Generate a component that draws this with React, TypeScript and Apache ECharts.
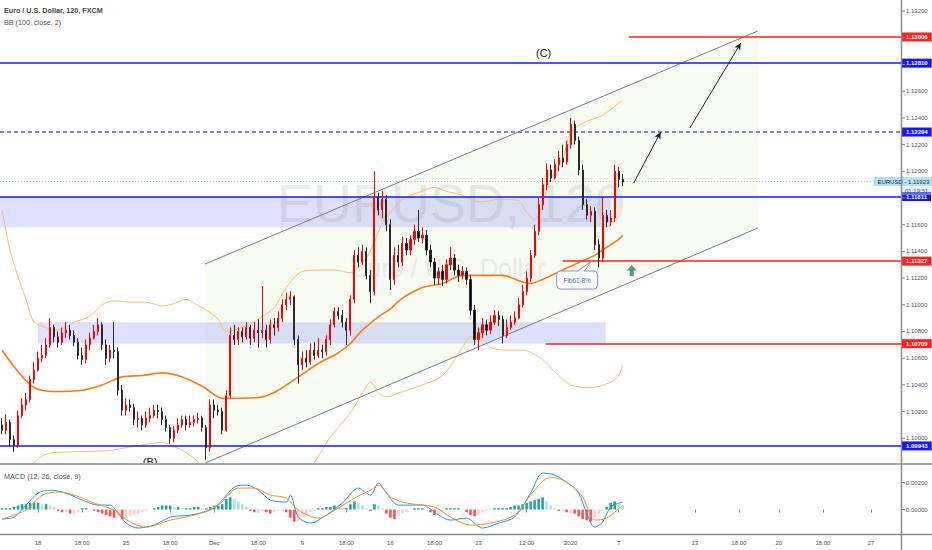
import React, { useEffect, useRef } from "react";
import * as echarts from "echarts";

// ---------- axes ----------
const SLOT_COUNT = 225;
const X_MIN = -0.5;
const X_MAX = SLOT_COUNT - 0.5;
const PRICE_MIN = 1.09815;
const PRICE_MAX = 1.13283;
const MACD_MIN = -0.00181;
const MACD_MAX = 0.0033;

const PRICE_TICKS = [1.1, 1.102, 1.104, 1.106, 1.108, 1.11, 1.112, 1.114, 1.116, 1.118, 1.12, 1.122, 1.124, 1.126, 1.128, 1.13, 1.132];
const PRICE_LABELS = [1.1, 1.102, 1.104, 1.106, 1.108, 1.11, 1.112, 1.114, 1.116, 1.12, 1.122, 1.124, 1.126, 1.132];
const MACD_TICKS = [0, 0.002];

const X_LABELS: [number, string][] = [
  [9, "18"], [20, "18:00"], [31, "25"], [42, "18:00"], [53, "Dec"], [64, "18:00"], [75, "9"],
  [86, "18:00"], [97, "16"], [108, "18:00"], [119, "23"], [131, "12:00"], [142, "2020"], [154, "7"],
  [173, "13"], [184, "18:00"], [194, "20"], [205, "18:00"], [217, "27"],
];

// ---------- price candles (2h bars, grouped) ----------
const FIRST_OPEN = 1.101;
const CLOSE = [
  1.1006, 1.1012, 1.0999, 1.0995, 1.1017, 1.1025, 1.1029, 1.1044, 1.1051, 1.106,
  1.1062, 1.107, 1.1083, 1.1076, 1.1072, 1.1079, 1.1081, 1.1077, 1.1072, 1.1062,
  1.1059, 1.107, 1.1075, 1.108, 1.1085, 1.107, 1.106, 1.1066, 1.1065, 1.1036,
  1.1021, 1.1025, 1.1023, 1.1014, 1.1015, 1.101, 1.1015, 1.1017, 1.1021, 1.102,
  1.1014, 1.1008, 1.1, 1.1006, 1.101, 1.1014, 1.101, 1.1012, 1.1014, 1.1015,
  1.1008, 1.0993, 1.1025, 1.1021, 1.102, 1.1006, 1.1032, 1.1077, 1.1074, 1.108,
  1.1076, 1.1083, 1.1075, 1.1081, 1.1079, 1.1081, 1.1074, 1.1085, 1.1083, 1.109,
  1.11, 1.1104, 1.1106, 1.1074, 1.1055, 1.106, 1.1057, 1.1066, 1.1062, 1.1066,
  1.1065, 1.1074, 1.1085, 1.1095, 1.1092, 1.1087, 1.1081, 1.1104, 1.1137, 1.1132,
  1.114, 1.1122, 1.111, 1.1181, 1.1171, 1.1179, 1.116, 1.1119, 1.1137, 1.1132,
  1.1146, 1.1141, 1.1149, 1.1155, 1.115, 1.1152, 1.1141, 1.1132, 1.112, 1.1125,
  1.1119, 1.113, 1.1135, 1.1126, 1.1122, 1.1125, 1.1119, 1.1096, 1.1074, 1.1079,
  1.1085, 1.1081, 1.1087, 1.1092, 1.1089, 1.1077, 1.1083, 1.1087, 1.109, 1.11,
  1.111, 1.112, 1.1137, 1.1155, 1.1175, 1.119, 1.1201, 1.1195, 1.1205, 1.121,
  1.1207, 1.122, 1.1235, 1.1223, 1.1201, 1.1175, 1.1167, 1.117, 1.1145, 1.1135,
  1.1167, 1.1162, 1.1165, 1.12, 1.1194, 1.1192,
];
const HIGH = [
  1.1015, 1.1018, 1.1014, 1.1002, 1.1021, 1.103, 1.1034, 1.1047, 1.1057, 1.1065,
  1.107, 1.1075, 1.109, 1.1085, 1.108, 1.1083, 1.1087, 1.1085, 1.1081, 1.1075,
  1.1068, 1.1074, 1.1079, 1.1085, 1.109, 1.1087, 1.1074, 1.107, 1.1087, 1.1068,
  1.104, 1.103, 1.1029, 1.1026, 1.102, 1.1017, 1.102, 1.1023, 1.1025, 1.1025,
  1.1023, 1.1017, 1.101, 1.1009, 1.1015, 1.1017, 1.1017, 1.1017, 1.1017, 1.1019,
  1.1017, 1.101, 1.1029, 1.1029, 1.1025, 1.1023, 1.1036, 1.1083, 1.1085, 1.1083,
  1.1083, 1.1087, 1.1085, 1.1087, 1.1089, 1.1114, 1.1085, 1.1089, 1.109, 1.1095,
  1.1104, 1.1109, 1.111, 1.1107, 1.1077, 1.1065, 1.1066, 1.1071, 1.1072, 1.1075,
  1.107, 1.1077, 1.1089, 1.1098, 1.1098, 1.1096, 1.109, 1.1107, 1.1141, 1.1143,
  1.1145, 1.1143, 1.1126, 1.12, 1.1184, 1.1185, 1.1182, 1.1164, 1.1143, 1.1145,
  1.1151, 1.115, 1.1152, 1.116, 1.1171, 1.1158, 1.1156, 1.1145, 1.1135, 1.1128,
  1.113, 1.1134, 1.1143, 1.1138, 1.113, 1.1129, 1.1128, 1.1122, 1.11, 1.1083,
  1.109, 1.1089, 1.1092, 1.1096, 1.1095, 1.1092, 1.1089, 1.1092, 1.1095, 1.1105,
  1.1115, 1.1125, 1.1141, 1.116, 1.118, 1.1195, 1.1206, 1.1205, 1.1209, 1.1215,
  1.122, 1.1223, 1.124, 1.1238, 1.1226, 1.1205, 1.1179, 1.1174, 1.1173, 1.1149,
  1.1181, 1.1171, 1.1171, 1.1205, 1.1203, 1.1198,
];
const LOW = [
  1.1003, 1.1003, 1.0994, 1.099, 1.0993, 1.1015, 1.1021, 1.1027, 1.1041, 1.105,
  1.1057, 1.106, 1.1068, 1.1072, 1.1068, 1.107, 1.1075, 1.1074, 1.1069, 1.1059,
  1.1055, 1.1056, 1.1066, 1.1074, 1.1077, 1.1066, 1.1055, 1.1057, 1.106, 1.1032,
  1.1017, 1.1017, 1.102, 1.101, 1.1008, 1.1006, 1.1008, 1.1012, 1.1015, 1.1015,
  1.101, 1.1005, 1.0996, 1.0997, 1.1004, 1.1008, 1.1006, 1.1008, 1.1009, 1.1011,
  1.1005, 1.0984, 1.099, 1.1015, 1.1017, 1.1003, 1.1005, 1.103, 1.107, 1.107,
  1.1072, 1.1074, 1.107, 1.1072, 1.1068, 1.1075, 1.1068, 1.1071, 1.1077, 1.108,
  1.1087, 1.1096, 1.11, 1.107, 1.1041, 1.1051, 1.1053, 1.1055, 1.1059, 1.106,
  1.106, 1.1062, 1.107, 1.1083, 1.1089, 1.1083, 1.107, 1.1077, 1.1101, 1.1128,
  1.113, 1.1119, 1.1101, 1.1107, 1.1167, 1.1165, 1.1155, 1.1111, 1.1115, 1.1128,
  1.1129, 1.1137, 1.1137, 1.1145, 1.1147, 1.1146, 1.1137, 1.1128, 1.1115, 1.1115,
  1.1114, 1.1116, 1.1126, 1.1122, 1.1117, 1.1119, 1.1115, 1.1092, 1.107, 1.1066,
  1.1075, 1.1077, 1.1078, 1.1085, 1.1084, 1.1071, 1.1075, 1.1081, 1.1085, 1.1089,
  1.1098, 1.1107, 1.1117, 1.1135, 1.1152, 1.1171, 1.1186, 1.1192, 1.1194, 1.12,
  1.1203, 1.1205, 1.1217, 1.122, 1.1197, 1.1171, 1.1164, 1.1162, 1.1141, 1.1128,
  1.1132, 1.1158, 1.1159, 1.1162, 1.1188, 1.1189,
];

// ---------- Bollinger Bands (100, close, 2) [slot, price] ----------
const BB_UPPER: [number, number][] = [
  [0, 1.1171], [2, 1.1141], [4, 1.1121], [6, 1.1104], [8, 1.1087], [11, 1.1083], [13, 1.1081], [16, 1.1083],
  [18, 1.1087], [21, 1.109], [23, 1.1094], [25, 1.11], [28, 1.1103], [32, 1.1102], [36, 1.1102], [40, 1.1099],
  [43, 1.1101], [46, 1.1104], [48, 1.1101], [51, 1.1096], [54, 1.1089], [56, 1.108], [58, 1.1081], [62, 1.1086],
  [65, 1.1091], [68, 1.1098], [71, 1.1113], [75, 1.1125], [79, 1.1126], [83, 1.1126], [87, 1.1124], [89, 1.1128],
  [91, 1.1135], [93, 1.1147], [95, 1.1161], [100, 1.1179], [104, 1.1184], [108, 1.1188], [111, 1.1185],
  [115, 1.1182], [117, 1.1179], [120, 1.1177], [124, 1.1179], [129, 1.1178], [131, 1.1169], [133, 1.1164],
  [135, 1.1176], [137, 1.1194], [140, 1.1209], [142, 1.1229], [145, 1.1236], [150, 1.1242], [154, 1.1251], [155, 1.1253],
];
const BB_MIDDLE: [number, number][] = [
  [0, 1.1066], [4, 1.105], [8, 1.1038], [13, 1.1035], [20, 1.1036], [25, 1.104], [30, 1.1046], [35, 1.1047],
  [40, 1.1049], [45, 1.1046], [50, 1.1039], [55, 1.103], [60, 1.103], [65, 1.1031], [69, 1.1036], [74, 1.1046],
  [79, 1.1056], [84, 1.1064], [87, 1.1071], [90, 1.1081], [94, 1.1091], [97, 1.1097], [100, 1.1105], [105, 1.1113],
  [110, 1.1116], [115, 1.1122], [120, 1.1122], [125, 1.1122], [130, 1.1117], [132, 1.1116], [135, 1.1119],
  [140, 1.1126], [145, 1.1133], [148, 1.1137], [151, 1.1143], [154, 1.1149], [155, 1.1152],
];
const BB_LOWER: [number, number][] = [
  [0, 1.094], [5, 1.0969], [8, 1.0982], [12, 1.0989], [20, 1.099], [27, 1.0991], [33, 1.0994], [40, 1.0997],
  [43, 1.0994], [46, 1.0989], [49, 1.0982], [52, 1.0965], [62, 1.0946], [72, 1.0958], [78, 1.0982], [82, 1.1001],
  [87, 1.1019], [90, 1.1034], [92, 1.1042], [94, 1.1034], [96, 1.1031], [100, 1.1035], [105, 1.104], [110, 1.1047],
  [115, 1.1068], [117, 1.1076], [120, 1.1074], [122, 1.1068], [126, 1.1066], [130, 1.1066], [135, 1.1059],
  [138, 1.105], [142, 1.104], [147, 1.1038], [152, 1.1042], [154, 1.1047], [155, 1.1055],
];

// ---------- MACD (12, 26, close, 9) ----------
const MACD_LINE: [number, number][] = [
  [0, -0.0007], [3, -0.00056], [6, 0.00033], [9, 0.00122], [12, 0.00144], [16, 0.00122], [20, 0.0007], [24, 0.00033],
  [27, 0.00033], [29, -0.00026], [31, -0.001], [34, -0.00137], [38, -0.00115], [42, -0.00056], [47, -0.00041],
  [52, -0.00004], [55, 0.0007], [58, 0.00167], [61, 0.00181], [64, 0.00144], [67, 0.0007], [71, 0.00056],
  [72, 0.00107], [74, -0.00056], [77, -0.001], [81, -0.00041], [85, 0.00048], [89, 0.00159], [92, 0.00107],
  [94, 0.00196], [96, 0.00122], [99, 0.00033], [105, 0.00033], [109, -0.00041], [112, -0.00078], [116, -0.00063],
  [120, -0.00137], [124, -0.001], [128, -0.00056], [132, 0.00122], [135, 0.0027], [138, 0.00255], [142, 0.00181],
  [144, 0.00122], [146, -0.00026], [148, -0.0013], [150, -0.00093], [152, 0.00019], [155, 0.00056],
];
const SIGNAL_LINE: [number, number][] = [
  [0, -0.0007], [6, -0.00004], [10, 0.00107], [14, 0.0013], [18, 0.00107], [23, 0.00048], [28, -0.00004],
  [32, -0.00093], [36, -0.0013], [42, -0.00078], [48, -0.00041], [54, 0.00033], [59, 0.00159], [63, 0.00159],
  [67, 0.00107], [71, 0.00085], [74, -0.00004], [79, -0.00063], [84, 0.00011], [88, 0.00085], [92, 0.00144],
  [94, 0.00181], [97, 0.00093], [101, 0.00048], [108, 0.00019], [112, -0.00056], [117, -0.00115], [122, -0.001],
  [128, -0.00041], [133, 0.00144], [137, 0.0024], [141, 0.00204], [145, 0.00093], [148, -0.00078], [151, -0.00063],
  [155, 0.00033],
];
const MACD_HIST = [
  0.0001, 0.0001, 0.0001,
  0.0002, 0.0003, 0.0004, 0.0004, 0.0005, 0.0005,
  0.0005, 0.0004, 0.0004, 0.0003, 0.0002,
  -0.0001, -0.0002, -0.0002, -0.0003, -0.0003, -0.0002,
  0.0001, 0.0001, 0, -0.0001,
  -0.0002, -0.0003, -0.0004, -0.0005, -0.0006, -0.0006, -0.0007, -0.0006, -0.0005,
  -0.0004, -0.0003, -0.0002, -0.0001, 0,
  0.0001, 0.0002, 0.0003, 0.0003, 0.0003, 0.0002, 0.0002, 0.0001, 0.0001, 0.0001, 0.0002, 0.0002, 0.0001,
  0.0001, 0.0002, 0.0003, 0.0003, 0.0004,
  0.0008, 0.0009, 0.0008,
  0.0006, 0.0004, 0.0002,
  -0.0001, -0.0002, -0.0002, -0.0001, -0.0002, -0.0003, -0.0002, -0.0001, -0.0001, -0.0002,
  -0.0006, -0.0009, -0.0008, -0.0006,
  -0.0004, -0.0002, -0.0001,
  0.0001, 0.0001, 0.0002, 0.0002, 0.0003,
  0.0002, 0.0001, 0.0001,
  0.0004, 0.0006, 0.0005,
  0.0003, 0.0001, -0.0001,
  0.0004, 0.0003, 0.0001,
  -0.0003, -0.0006, -0.0007, -0.0005, -0.0003, -0.0002,
  0, 0.0001, 0.0001, 0.0001, 0,
  -0.0002, -0.0004, -0.0004, -0.0002,
  0.0001, 0.0001, 0.0001, 0.0001, 0,
  -0.0002, -0.0004, -0.0005, -0.0004, -0.0002,
  -0.0001, 0, 0.0001, 0.0001, 0.0001, 0.0001,
  0.0002, 0.0003, 0.0003, 0.0004, 0.0005,
  0.0006, 0.0007, 0.0008, 0.0009,
  0.0006, 0.0003, 0.0001,
  -0.0001, -0.0001, -0.0002, -0.0002,
  -0.0003, -0.0005, -0.0007, -0.0008, -0.0009,
  -0.0006, -0.0003, -0.0001,
  0.0002, 0.0005, 0.0006, 0.0004, 0.0003,
];

// ---------- drawings ----------
const LEVEL_PRICES = [1.13006, 1.1281, 1.12294, 1.11811, 1.11327, 1.10709, 1.09943];
const LEVEL_FROM = [156.5, -0.5, -0.5, -0.5, 140, 135.75, -0.5];
const LEVEL_KIND = ["red", "blue", "dash", "blue", "red", "red", "blue"];
const CURRENT_PRICE = 1.11923;
const COUNTDOWN = "01:19:51";
const ZONES: [number, number, number, number][] = [
  [-0.5, 152, 1.1181, 1.1158],
  [9, 150.75, 1.1087, 1.1071],
];
const CHANNEL_TOP: [number, number][] = [[50.75, 1.11306], [188.75, 1.13051]];
const CHANNEL_BOTTOM: [number, number][] = [[50.75, 1.09815], [188.75, 1.11575]];
const ARROWS: [number, number][][] = [
  [[157.75, 1.11912], [164.5, 1.12294]],
  [[171.75, 1.12324], [184.5, 1.12961]],
];
const WAVE_LABELS: { text: string; at: [number, number] }[] = [
  { text: "(C)", at: [135.25, 1.12886] },
  { text: "(B)", at: [37, 1.09826] },
];
const FIB_TEXT = "Fib61.8%";
const FIB_BOX: [number, number][] = [[138.5, 1.11253], [148.75, 1.11118]];
const FIB_TAIL: [number, number][] = [[143.75, 1.11253], [147, 1.11321], [145.5, 1.11253]];
const BUY_MARK: [number, number] = [157.25, 1.11257];

const FONT = '"Liberation Sans", Arial, sans-serif';
const COLORS: Record<string, string> = { red: "#ff1f1f", blue: "#1717ff", dash: "#5a5aff" };
const AXIS_GRAY = "#8c8c8c";

function tickSeries(xAxisIndex: number, yAxisIndex: number, values: number[]) {
  return {
    type: "custom", xAxisIndex, yAxisIndex, z: 20, silent: true, clip: false,
    data: values.map((v) => [X_MAX, v]),
    renderItem: (_p: any, api: any) => {
      const pt = api.coord([api.value(0), api.value(1)]);
      return { type: "line", shape: { x1: pt[0] + 1, y1: pt[1], x2: pt[0] + 4, y2: pt[1] }, style: { stroke: AXIS_GRAY, lineWidth: 1 } };
    },
  };
}

function buildOption(): any {
  const labelMap = new Map<number, string>(X_LABELS);
  const categories = Array.from({ length: SLOT_COUNT }, (_, i) => String(i));
  const candles = CLOSE.map((c, i) => [i === 0 ? FIRST_OPEN : CLOSE[i - 1], c, LOW[i], HIGH[i]]);
  const hist = MACD_HIST.map((v, i) => {
    const prev = i > 0 ? MACD_HIST[i - 1] : 0;
    let color: string;
    if (v >= 0) color = v >= prev ? "#26a69a" : "#b2dfdb";
    else color = v < prev ? "#ff5252" : "#ffcdd2";
    return { value: v, itemStyle: { color } };
  });

  const levelLines = LEVEL_PRICES.map((p, k) => {
    const kind = LEVEL_KIND[k];
    const lineColor = COLORS[kind];
    const labelBg = kind === "red" ? "#ff1f1f" : "#1717ff";
    return [
      {
        coord: [LEVEL_FROM[k], p],
        lineStyle: { color: lineColor, width: 1.6, type: kind === "dash" ? [4, 3] : "solid" },
        label: {
          show: true, position: "end", formatter: p.toFixed(5), backgroundColor: labelBg, color: "#fff",
          fontSize: 6, fontWeight: "bold", fontFamily: FONT, padding: [1.5, 4, 1.5, 4], distance: 1,
        },
      },
      { coord: [X_MAX, p] },
    ];
  });

  const channelLines = [CHANNEL_TOP, CHANNEL_BOTTOM].map((seg) => [
    { coord: seg[0], lineStyle: { color: "#7b7e88", width: 1, type: "solid" }, label: { show: false } },
    { coord: seg[1] },
  ]);

  const priceLine = [
    { coord: [X_MIN, CURRENT_PRICE], lineStyle: { color: "#9fd3ea", width: 1, type: [1, 2] }, label: { show: false } },
    { coord: [X_MAX, CURRENT_PRICE] },
  ];

  return {
    animation: false,
    backgroundColor: "#ffffff",
    textStyle: { fontFamily: FONT },
    grid: [
      { left: 0, top: 0, width: 901, height: 463, containLabel: false, outerBoundsMode: "none" },
      { left: 0, top: 465, width: 901, height: 69, containLabel: false, outerBoundsMode: "none" },
    ],
    xAxis: [
      { type: "category", gridIndex: 0, data: categories, show: false },
      { type: "value", gridIndex: 0, min: X_MIN, max: X_MAX, show: false },
      {
        type: "category", gridIndex: 1, data: categories,
        axisLine: { show: false },
        axisTick: { show: true, length: 3, alignWithLabel: true, interval: (i: number) => labelMap.has(i), lineStyle: { color: AXIS_GRAY } },
        axisLabel: {
          show: true, interval: (i: number) => labelMap.has(i), formatter: (v: string) => labelMap.get(Number(v)) ?? "",
          fontSize: 6, color: "#50535e", margin: 6, fontFamily: FONT,
        },
        splitLine: { show: false },
      },
      { type: "value", gridIndex: 1, min: X_MIN, max: X_MAX, show: false },
    ],
    yAxis: [
      {
        type: "value", gridIndex: 0, position: "right", min: PRICE_MIN, max: PRICE_MAX,
        splitLine: { show: false }, axisLine: { show: false }, axisTick: { show: false },
        axisLabel: { customValues: PRICE_LABELS, formatter: (v: number) => v.toFixed(5), fontSize: 6, color: "#50535e", margin: 5, fontFamily: FONT },
      },
      {
        type: "value", gridIndex: 1, position: "right", min: MACD_MIN, max: MACD_MAX,
        splitLine: { show: false }, axisLine: { show: false }, axisTick: { show: false },
        axisLabel: { customValues: MACD_TICKS, formatter: (v: number) => v.toFixed(5), fontSize: 6, color: "#50535e", margin: 5, fontFamily: FONT },
      },
    ],
    graphic: [
      { type: "text", z: 0, style: { text: "EURUSD, 120", x: 451, y: 203, fill: "rgba(120,125,140,0.15)", font: `54px ${FONT}`, align: "center", verticalAlign: "middle", textAlign: "center", textVerticalAlign: "middle" } },
      { type: "text", z: 0, style: { text: "Euro / U.S. Dollar", x: 448, y: 268, fill: "rgba(120,125,140,0.15)", font: `25px ${FONT}`, align: "center", verticalAlign: "middle", textAlign: "center", textVerticalAlign: "middle" } },
      { type: "text", z: 50, style: { text: "Euro / U.S. Dollar, 120, FXCM", x: 4, y: 10.5, fill: "#444", font: `bold 7.2px ${FONT}`, verticalAlign: "middle", textVerticalAlign: "middle" } },
      { type: "text", z: 50, style: { text: "BB (100, close, 2)", x: 4, y: 22, fill: "#555", font: `7.2px ${FONT}`, verticalAlign: "middle", textVerticalAlign: "middle" } },
      { type: "text", z: 50, style: { text: "MACD (12, 26, close, 9)", x: 4, y: 476, fill: "#555", font: `7.2px ${FONT}`, verticalAlign: "middle", textVerticalAlign: "middle" } },
      { type: "line", z: 50, shape: { x1: 0, y1: 464, x2: 932, y2: 464 }, style: { stroke: AXIS_GRAY, lineWidth: 1.5 } },
      { type: "line", z: 50, shape: { x1: 0, y1: 534.5, x2: 932, y2: 534.5 }, style: { stroke: AXIS_GRAY, lineWidth: 1.5 } },
      { type: "line", z: 50, shape: { x1: 901.5, y1: 0, x2: 901.5, y2: 550 }, style: { stroke: AXIS_GRAY, lineWidth: 1.5 } },
    ],
    series: [
      // channel fill
      {
        type: "custom", xAxisIndex: 1, yAxisIndex: 0, z: 1, silent: true, clip: true, data: [[0, 1.11]],
        renderItem: (_p: any, api: any) => {
          const a = api.coord(CHANNEL_TOP[0]);
          const b = api.coord(CHANNEL_TOP[1]);
          const c = api.coord(CHANNEL_BOTTOM[1]);
          const d = api.coord(CHANNEL_BOTTOM[0]);
          return { type: "polygon", shape: { points: [a, b, c, d] }, style: { fill: "rgba(139,195,74,0.07)" } };
        },
      },
      // zones
      {
        type: "line", xAxisIndex: 1, yAxisIndex: 0, z: 2, data: [], silent: true,
        markArea: {
          silent: true,
          itemStyle: { color: "rgba(48,64,255,0.16)" },
          data: ZONES.map((zn) => [{ coord: [zn[0], zn[2]] }, { coord: [zn[1], zn[3]] }]),
        },
      },
      // Bollinger bands
      { type: "line", xAxisIndex: 1, yAxisIndex: 0, z: 3, data: BB_UPPER, symbol: "none", smooth: 0.3, silent: true, lineStyle: { color: "#ffbd6b", width: 1 } },
      { type: "line", xAxisIndex: 1, yAxisIndex: 0, z: 3, data: BB_LOWER, symbol: "none", smooth: 0.3, silent: true, lineStyle: { color: "#ffbd6b", width: 1 } },
      { type: "line", xAxisIndex: 1, yAxisIndex: 0, z: 3, data: BB_MIDDLE, symbol: "none", smooth: 0.3, silent: true, lineStyle: { color: "#ff7a14", width: 1.6 } },
      // candles
      {
        type: "candlestick", xAxisIndex: 0, yAxisIndex: 0, z: 5, data: candles, barWidth: 1.6, silent: true,
        itemStyle: { color: "#ff0000", color0: "#000000", borderColor: "#ff0000", borderColor0: "#2a2a2a", borderWidth: 1 },
      },
      // levels, channel lines, current price
      {
        type: "line", xAxisIndex: 1, yAxisIndex: 0, z: 6, data: [], silent: true,
        markLine: {
          silent: true, symbol: ["none", "none"],
          data: [...channelLines, priceLine, ...levelLines],
        },
        markPoint: {
          silent: true,
          data: [
            {
              coord: [X_MAX, CURRENT_PRICE], symbol: "rect", symbolSize: [0.1, 0.1], itemStyle: { color: "rgba(0,0,0,0)" },
              label: {
                show: true, position: [-27.5, -4.5], formatter: `EURUSD - ${CURRENT_PRICE.toFixed(5)}`,
                backgroundColor: "#b4e1f0", color: "#2a2e39", fontSize: 6, fontFamily: FONT, padding: [1.5, 3, 1.5, 4],
              },
            },
            {
              coord: [X_MAX, CURRENT_PRICE], symbol: "rect", symbolSize: [0.1, 0.1], itemStyle: { color: "rgba(0,0,0,0)" },
              label: {
                show: true, position: [1, 5.5], formatter: COUNTDOWN,
                backgroundColor: "rgba(180,225,240,0.45)", color: "#50535e", fontSize: 6, fontFamily: FONT, padding: [1, 3, 1, 3],
              },
            },
          ],
        },
      },
      // projection arrows
      {
        type: "line", xAxisIndex: 1, yAxisIndex: 0, z: 7, data: [], silent: true,
        markLine: {
          silent: true, symbol: ["none", "arrow"], symbolSize: [5, 7],
          lineStyle: { color: "#1e222d", width: 1, type: "solid" },
          label: { show: false },
          data: ARROWS.map((a) => [{ coord: a[0] }, { coord: a[1] }]),
        },
      },
      // text annotations and Fib callout
      {
        type: "custom", xAxisIndex: 1, yAxisIndex: 0, z: 8, silent: true, clip: true, data: [[0, 1.11]],
        renderItem: (_p: any, api: any) => {
          const children: any[] = [];
          WAVE_LABELS.forEach((w) => {
            const [x, y] = api.coord(w.at);
            children.push({
              type: "text", x, y,
              style: { text: w.text, fill: "#131722", font: `11px ${FONT}`, align: "center", verticalAlign: "middle", textAlign: "center", textVerticalAlign: "middle" },
            });
          });
          const p1 = api.coord(FIB_BOX[0]);
          const p2 = api.coord(FIB_BOX[1]);
          const tail = FIB_TAIL.map((t) => api.coord(t));
          children.push({ type: "polygon", shape: { points: tail }, style: { fill: "#ffffff", stroke: "#8591d9", lineWidth: 1 } });
          children.push({ type: "rect", shape: { x: p1[0], y: p1[1], width: p2[0] - p1[0], height: p2[1] - p1[1], r: 4 }, style: { fill: "#ffffff", stroke: "#8591d9", lineWidth: 1 } });
          children.push({ type: "line", shape: { x1: tail[0][0] + 0.8, y1: tail[0][1], x2: tail[2][0] - 0.8, y2: tail[2][1] }, style: { stroke: "#ffffff", lineWidth: 1.5 } });
          children.push({
            type: "text", x: (p1[0] + p2[0]) / 2, y: (p1[1] + p2[1]) / 2,
            style: { text: FIB_TEXT, fill: "#5866b5", font: `6.5px ${FONT}`, align: "center", verticalAlign: "middle", textAlign: "center", textVerticalAlign: "middle" },
          });
          return { type: "group", children };
        },
      },
      // buy arrow icon
      {
        type: "scatter", xAxisIndex: 1, yAxisIndex: 0, z: 8, silent: true, data: [BUY_MARK],
        symbol: "path://M5,0 L10,5.5 L7,5.5 L7,11 L3,11 L3,5.5 L0,5.5 Z", symbolSize: [10, 11],
        itemStyle: { color: "#2b7d6e" },
      },
      // right axis ticks
      tickSeries(1, 0, PRICE_TICKS),
      tickSeries(3, 1, MACD_TICKS),
      // MACD pane
      { type: "bar", xAxisIndex: 2, yAxisIndex: 1, data: hist, barWidth: 2.6, silent: true, z: 3 },
      { type: "line", xAxisIndex: 3, yAxisIndex: 1, data: MACD_LINE, symbol: "none", smooth: 0.3, silent: true, z: 4, lineStyle: { color: "#2196f3", width: 1 } },
      { type: "line", xAxisIndex: 3, yAxisIndex: 1, data: SIGNAL_LINE, symbol: "none", smooth: 0.3, silent: true, z: 4, lineStyle: { color: "#ff8c1a", width: 1 } },
    ],
  };
}

export default function App() {
  const ref = useRef<HTMLDivElement>(null);
  useEffect(() => {
    if (!ref.current) return;
    const chart = echarts.init(ref.current, null, { renderer: "svg" });
    chart.setOption(buildOption());
    return () => chart.dispose();
  }, []);
  return (
    <div
      ref={ref}
      style={{ position: "fixed", left: 0, top: 0, width: 932, height: 550, background: "#ffffff" }}
    />
  );
}
